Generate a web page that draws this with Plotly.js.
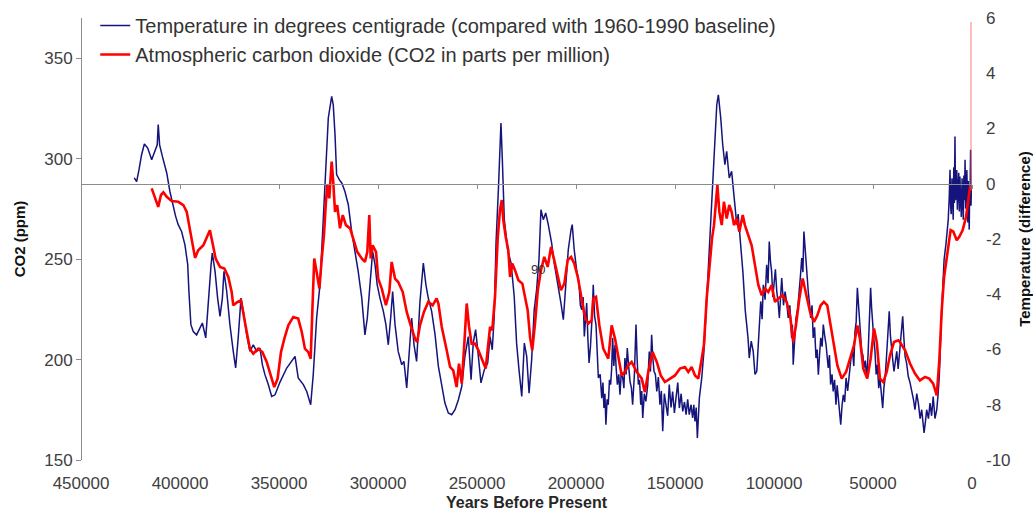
<!DOCTYPE html>
<html><head><meta charset="utf-8">
<script src="https://cdn.plot.ly/plotly-3.0.1.min.js"></script>
<style>html,body{margin:0;padding:0;background:#fff}#chart{width:1033px;height:511px}</style>
</head><body><div id="chart"></div>
<script>
// Temperature (°C difference vs 1960-1990 baseline)
const tempYears = [423100,421900,420700,419400,418000,416300,414300,412600,411500,411000,410300,408900,406700,405100,403400,402200,400900,399200,397500,396100,395500,394500,393300,391600,389900,388700,387000,385700,384300,383700,382300,381000,379800,378600,377800,376400,374800,373100,371900,370600,369200,368000,366300,364700,363000,361300,359600,358400,357100,355400,353700,352000,349500,346100,341900,340300,337700,336000,334000,332700,331000,329300,327600,326300,325100,323400,322600,321700,320900,319500,318300,316700,315000,313300,311600,310000,308200,306600,305400,304000,302700,301500,300400,299000,297300,296000,294800,293600,292600,291400,289800,288000,286900,285500,284200,283000,281800,280500,278800,277100,275800,274600,272900,271200,269500,267800,266200,264500,262800,261100,259400,257700,256100,254400,253000,251900,250700,249300,248000,246300,244600,243400,242300,241300,240400,239200,238400,237900,237200,236200,234500,232800,231200,230000,228800,227400,226100,224900,223700,222400,221100,219900,218700,217700,216500,215300,214000,212300,211000,209200,207600,206400,205200,203900,202500,201900,200900,199700,
198500,197800,197100,196400,195800,195200,194600,194000,193400,192700,192100,191700,191300,190600,189900,189300,188700,187800,187000,186400,185900,185400,184900,184300,183700,183100,182500,182000,181500,180900,180300,179700,179100,178400,177800,177100,176400,175800,175300,174700,174100,173400,172700,172000,171400,170500,169700,169100,168500,167900,167300,166800,166300,165500,164700,163800,163000,162400,161800,161200,160600,159900,159200,158400,157600,156900,156200,155400,154600,153700,152900,152000,151200,150300,149500,148600,147800,146900,146100,145200,144400,143600,142800,141900,141100,140500,139900,139300,138700,138200,137700,136500,
135400,134300,133200,132000,131000,130000,128900,128100,126900,125900,124800,123900,122600,121400,
120200,119500,118800,118100,117500,116900,116300,115700,115200,114500,113800,113100,112500,111500,110500,109600,108700,108200,107700,107200,106700,106000,105400,104500,103700,103000,102400,101800,101200,100600,100000,99300,98600,97900,97300,96700,96100,95200,94400,93600,92800,92000,91100,90700,90300,89600,88900,88000,87200,86600,86000,85400,84900,84300,83800,83200,82700,82100,81500,80800,80200,79500,78800,78200,77600,77000,76400,75700,75100,74400,73700,73100,72600,72000,71400,70700,70100,69400,68700,68100,67500,66900,66300,65600,65000,64300,63600,62800,62000,61100,60300,59700,59100,58500,57900,57400,56900,56300,55700,55100,54600,53900,53200,52500,51900,51500,51200,50700,50200,49600,49000,48400,47800,47100,46500,45800,45100,44500,43900,43300,42800,42300,41800,41200,40600,40000,39400,38700,38000,37300,36700,35800,35000,34400,33800,33000,32200,31300,30500,29600,28800,27900,27100,26200,25400,24800,24200,23500,22900,22000,21200,20400,19600,18700,17800,17100,16500,
15300,14100,13100,12000,11500,11100,10800,10500,10100,9800,9500,9200,8900,8600,8300,8000,7700,7400,7000,6700,6400,6100,5700,5400,5000,4700,4400,4100,3800,3500,3200,2900,2600,2400,2100,1900,1600,1400,1200,1000,850,700,500,300];
const tempValues = [0.21,0.08,0.51,1.05,1.44,1.29,0.87,1.23,1.41,2.14,1.41,0.99,0.39,-0.28,-0.88,-1.18,-1.48,-1.73,-2.21,-2.93,-3.90,-5.10,-5.35,-5.47,-5.22,-5.04,-5.58,-4.14,-2.93,-2.51,-3.17,-4.14,-4.80,-4.14,-3.17,-3.90,-5.10,-6.07,-6.67,-5.58,-4.14,-4.62,-5.47,-6.07,-5.83,-6.07,-5.95,-6.55,-6.91,-7.27,-7.70,-7.64,-7.18,-6.67,-6.25,-7.03,-7.27,-7.52,-8.00,-6.91,-4.86,-3.66,-1.24,0.57,2.38,3.16,2.86,1.77,0.33,0.14,0.03,-0.28,-0.76,-1.73,-2.45,-3.17,-4.14,-5.47,-4.86,-3.41,-2.45,-2.93,-3.66,-4.14,-4.62,-5.10,-5.83,-4.86,-3.90,-5.10,-6.07,-6.55,-6.43,-7.39,-6.07,-4.86,-5.83,-6.43,-4.26,-2.87,-3.66,-4.14,-4.62,-5.45,-6.61,-7.34,-7.94,-8.30,-8.36,-8.18,-7.82,-7.34,-6.25,-5.53,-7.09,-5.77,-5.28,-6.25,-7.21,-6.73,-6.49,-5.53,-6.01,-4.80,-2.15,-0.22,1.47,2.20,0.87,-1.30,-2.39,-2.87,-4.08,-5.77,-6.73,-7.70,-5.77,-6.25,-7.58,-6.37,-4.56,-3.84,-2.75,-0.94,-1.30,-1.06,-1.48,-2.15,-2.87,-3.59,-4.32,-4.92,-3.59,-2.39,-1.66,-1.48,-2.39,-3.11,
-3.59,-4.40,-4.56,-4.10,-5.53,-4.90,-4.32,-5.60,-6.49,-5.90,-5.16,-4.60,-3.66,-4.80,-5.10,-6.40,-7.03,-6.90,-7.76,-7.20,-8.12,-7.60,-8.72,-7.80,-8.00,-7.10,-7.27,-6.70,-5.58,-6.60,-5.83,-6.70,-7.27,-6.90,-7.64,-6.80,-7.03,-7.40,-6.31,-6.90,-5.95,-6.60,-7.16,-7.40,-8.00,-6.90,-5.10,-6.40,-7.27,-7.10,-8.00,-7.50,-8.48,-7.60,-7.88,-7.30,-6.07,-6.80,-5.47,-6.30,-6.79,-6.90,-7.52,-7.00,-8.00,-7.50,-8.96,-7.60,-8.00,-8.40,-7.27,-8.10,-7.52,-8.30,-7.76,-7.20,-8.12,-7.60,-8.24,-7.90,-8.36,-7.80,-8.36,-8.00,-8.48,-8.00,-8.60,-8.10,-9.20,-8.40,-7.76,-7.03,
-6.07,-4.62,-3.05,-1.48,-0.04,1.77,2.86,3.22,2.38,1.41,0.69,1.17,0.21,0.45,
-0.40,-0.90,-1.48,-1.10,-1.73,-2.20,-2.69,-3.20,-3.90,-4.60,-5.10,-5.60,-6.31,-5.70,-6.07,-6.90,-6.79,-6.20,-5.83,-5.10,-4.26,-4.90,-3.66,-4.20,-2.93,-3.60,-2.09,-2.80,-3.17,-4.10,-3.66,-3.10,-3.90,-4.30,-4.86,-4.20,-3.41,-4.40,-3.90,-4.30,-4.86,-4.40,-5.58,-5.10,-6.55,-5.70,-4.86,-4.50,-3.90,-3.30,-2.69,-3.20,-1.73,-2.40,-2.93,-3.50,-3.90,-4.30,-4.86,-4.40,-5.58,-5.20,-6.31,-6.00,-6.91,-6.20,-5.58,-5.90,-5.10,-5.50,-5.83,-6.30,-6.67,-6.20,-7.27,-6.90,-7.52,-7.10,-8.00,-7.30,-7.76,-8.20,-8.72,-8.00,-7.64,-7.90,-7.03,-7.50,-6.79,-6.30,-6.07,-6.60,-5.35,-5.00,-3.77,-4.30,-4.86,-5.40,-6.07,-6.20,-6.67,-6.40,-7.03,-6.20,-5.10,-4.40,-3.77,-4.50,-5.10,-5.60,-6.07,-6.90,-6.55,-7.40,-7.03,-7.60,-8.12,-7.40,-7.03,-6.40,-5.83,-5.20,-4.62,-5.50,-6.07,-6.40,-6.79,-6.30,-6.07,-6.70,-6.25,-5.60,-4.80,-5.60,-6.25,-6.50,-6.97,-7.20,-7.46,-7.80,-8.18,-7.60,-7.94,-8.50,-8.18,-8.50,-9.02,-8.60,-8.18,-8.50,-7.94,-8.40,-7.70,-8.50,-8.18,-7.60,-6.97,
-4.56,-2.75,-2.15,-1.30,-0.50,0.51,-0.80,-1.10,0.20,-0.46,-1.30,0.60,-0.70,1.71,-0.60,-0.20,0.50,-0.94,-0.10,0.40,-1.00,0.26,-0.60,-1.20,0.20,-0.46,-1.30,0.30,-0.60,0.87,-0.90,-0.50,0.50,-0.94,-1.40,0.10,-0.80,-1.66,-0.40,-0.60,0.40,1.23,-0.80,-0.20];

// Atmospheric CO2 (ppm)
const co2Years = [414300,412600,411000,409600,408400,406700,404200,400900,398300,396600,395000,393300,392400,390800,388200,386000,384900,383700,382000,379800,377600,375600,373900,373100,370900,369200,368000,366300,364700,363000,360500,358400,356200,354000,352400,350700,349000,347300,345300,342800,340300,338500,336900,335200,334000,333000,332200,331000,329600,328400,327300,326300,325600,324600,323900,323400,322600,321700,320600,319200,317800,316200,314100,312500,310500,308200,306600,305400,304400,303700,302700,301000,299900,298100,296000,294300,293100,291400,289800,287500,285500,283500,281300,280200,278800,276800,274600,272400,270400,269500,267800,265300,263600,262000,260300,259100,257700,256400,255200,254000,252700,251000,249300,247300,245600,244300,243400,242300,240900,239500,238400,237500,236700,235500,234200,233300,232200,230800,229100,227100,225800,224400,223200,222100,220700,219300,217700,216000,214300,212600,211000,209200,207600,205900,204200,202500,200900,199100,197500,195500,193800,192100,191300,189900,188200,186200,183700,182000,180300,178600,176900,175300,173600,171900,169300,166800,165200,163500,161300,159200,157200,155100,152500,150000,147500,145000,143300,141600,139900,138200,136500,135400,134000,132700,131300,130300,129300,128600,127600,126400,125300,123900,122600,121400,120200,118800,117500,115800,114700,113000,111300,109600,107900,106200,104500,102900,101200,99500,97800,95600,93600,91900,90300,88900,87200,85500,83800,81800,79800,78100,76400,74800,73100,71400,69700,68000,65800,63600,61600,59600,57900,56600,54900,52900,51200,49500,48100,46500,44800,43100,41400,39400,37200,36400,33800,31300,28800,26300,23700,21600,19600,17800,16500,15300,14100,12800,12000,10800,9400,7700,6400,4700,3000,1900,1000];
const co2Values = [285.2,280.2,276.0,281.9,283.2,281.0,278.9,278.5,276.9,273.5,265.3,255.3,250.6,254.4,256.9,261.9,264.4,258.6,250.3,246.1,245.3,241.1,233.6,227.0,228.7,229.5,222.0,213.7,205.4,202.9,205.4,203.7,198.8,192.1,186.3,190.5,203.7,210.4,217.0,221.2,220.4,213.7,205.4,203.7,200.4,228.7,250.3,243.6,235.3,250.3,261.9,278.5,286.8,280.2,290.2,298.5,288.5,273.5,276.9,265.3,271.9,266.9,265.3,260.3,253.6,250.3,248.6,253.6,271.9,250.3,256.9,253.6,240.3,235.3,227.0,233.6,248.6,240.3,238.6,233.6,223.7,217.0,210.4,208.7,217.0,223.7,228.7,227.0,230.4,227.9,216.2,204.6,196.3,194.6,186.3,198.0,188.0,207.9,227.9,216.2,207.9,207.9,204.6,199.6,195.5,207.9,216.2,214.6,231.2,261.1,274.4,279.4,269.4,261.1,254.4,241.1,247.8,244.5,239.5,237.8,231.2,224.5,211.2,204.6,217.9,234.5,244.5,251.1,246.1,256.1,249.5,241.1,234.5,237.8,249.5,251.1,247.8,241.1,231.2,221.2,217.9,219.5,230.4,231.2,217.0,205.4,200.4,217.0,210.4,200.4,192.1,193.8,197.1,198.8,193.8,190.5,183.8,193.8,203.7,198.8,192.1,188.8,190.5,192.1,195.5,196.3,193.8,196.3,192.1,190.5,200.4,207.1,230.4,247.0,260.3,266.9,276.9,286.8,273.5,266.9,278.5,270.2,276.9,273.5,266.9,270.2,263.6,271.9,266.9,261.9,256.9,247.0,237.0,232.0,235.3,233.6,237.0,228.7,230.4,232.0,228.7,222.0,208.7,217.0,230.4,240.3,232.0,223.7,218.7,222.0,227.0,228.7,227.0,217.0,207.1,197.1,190.5,193.8,200.4,207.1,217.0,210.4,195.5,190.5,200.4,215.4,208.7,190.5,188.8,193.8,202.1,208.7,209.6,208.7,204.6,198.0,193.0,189.6,191.3,190.5,188.0,182.2,199.6,224.5,241.1,251.1,257.8,264.4,263.6,259.4,261.1,264.4,271.0,281.0,286.0];

// Modern CO2 rise at the right edge (thin line running off the top)
const modernYears = [500, 500];
const modernCO2 = [284, 368];

const xTickVals = [450000, 400000, 350000, 300000, 250000, 200000, 150000, 100000, 50000, 0];
const co2TickVals = [150, 200, 250, 300, 350];
const tempTickVals = [-10, -8, -6, -4, -2, 0, 2, 4, 6];

const FONT = '"Liberation Sans", Arial, sans-serif';
const AX = '#8c8c8c';

const traces = [
  {x: tempYears, y: tempValues, xaxis: 'x', yaxis: 'y', type: 'scatter', mode: 'lines',
   name: 'Temperature in degrees centigrade (compared with 1960-1990 baseline)',
   legendgroup: 'temp', line: {color: '#14147c', width: 1.5}},
  {x: co2Years, y: co2Values, xaxis: 'x2', yaxis: 'y2', type: 'scatter', mode: 'lines',
   name: 'Atmospheric carbon dioxide (CO2 in parts per million)',
   legendgroup: 'co2', line: {color: '#ff0000', width: 2.6}},
  {x: modernYears, y: modernCO2, xaxis: 'x2', yaxis: 'y2', type: 'scatter', mode: 'lines',
   showlegend: false, legendgroup: 'co2', line: {color: 'rgba(255,80,80,0.75)', width: 1}}
];

const layout = {
  width: 1033, height: 511,
  margin: {l: 81, r: 61, t: 18, b: 51, autoexpand: false},
  paper_bgcolor: '#ffffff', plot_bgcolor: '#ffffff',
  font: {family: FONT, color: '#404040', size: 17},
  showlegend: true,
  legend: {x: 0.016, y: 1.027, xanchor: 'left', yanchor: 'top', bgcolor: 'rgba(0,0,0,0)',
           font: {family: FONT, size: 20, color: '#333333'}, tracegroupgap: 2, traceorder: 'normal'},
  xaxis: {range: [450000, 0], tickvals: xTickVals, ticktext: xTickVals.map(String),
          showline: false, showgrid: false, zeroline: false, ticks: '', ticklabelstandoff: 11,
          tickfont: {size: 17, color: '#404040'}, automargin: false,
          title: {text: 'Years Before Present', standoff: 5,
                  font: {family: FONT, size: 16, color: '#262626', weight: 'bold'}}},
  xaxis2: {overlaying: 'x', anchor: 'free', position: 0.625, range: [450000, 0],
           tickvals: xTickVals, showticklabels: false, showline: true, linecolor: AX, linewidth: 1,
           ticks: 'outside', ticklen: 4, tickcolor: AX, showgrid: false, zeroline: false},
  yaxis: {range: [-10, 6], side: 'right', anchor: 'x', tickvals: tempTickVals,
          ticktext: tempTickVals.map(String), showline: false, showgrid: false, zeroline: false,
          ticks: '', ticklabelstandoff: 13, tickfont: {size: 17, color: '#404040'}, automargin: false,
          title: {text: 'Temperature (difference)', standoff: 9,
                  font: {family: FONT, size: 15, color: '#111111', weight: 'bold'}}},
  yaxis2: {range: [150, 370], overlaying: 'y', side: 'left', anchor: 'free', position: 0,
           tickvals: co2TickVals, ticktext: co2TickVals.map(String),
           showline: true, linecolor: AX, linewidth: 1, ticks: 'outside', ticklen: 5, tickcolor: AX,
           showgrid: false, zeroline: false, tickfont: {size: 17, color: '#404040'}, automargin: false,
           title: {text: 'CO2 (ppm)', standoff: 13,
                   font: {family: FONT, size: 15, color: '#111111', weight: 'bold'}}},
  annotations: [{x: 219200, y: 245, xref: 'x2', yref: 'y2', text: '90', showarrow: false,
                 font: {family: FONT, size: 13, color: '#333333'}}]
};

Plotly.newPlot('chart', traces, layout, {displayModeBar: false, staticPlot: true});
</script>
</body></html>
